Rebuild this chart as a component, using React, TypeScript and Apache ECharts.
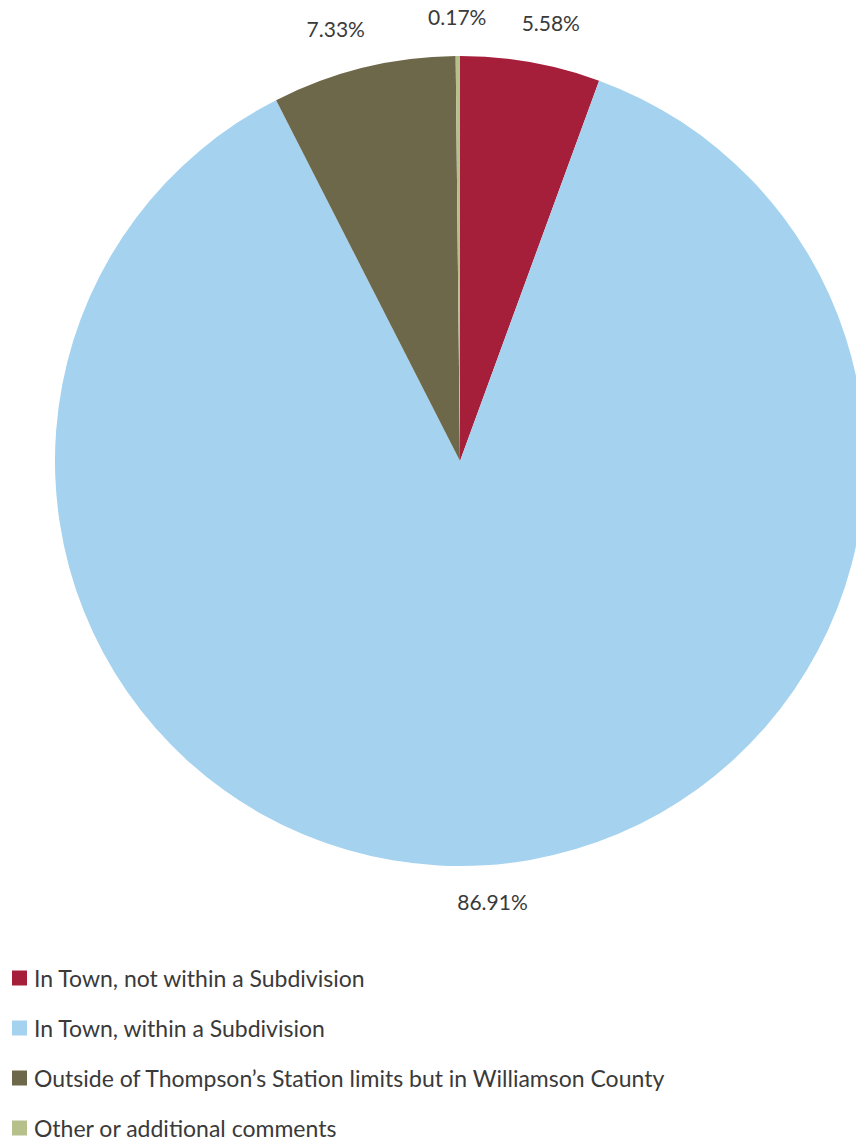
import React, { useEffect, useRef } from "react";
import * as echarts from "echarts";

const categories = [
  "In Town, not within a Subdivision",
  "In Town, within a Subdivision",
  "Outside of Thompson\u2019s Station limits but in Williamson County",
  "Other or additional comments",
];
const values = [5.58, 86.91, 7.33, 0.17];
const colors = ["#A51E3A", "#A4D2EF", "#6E684A", "#B5C08A"];

const CX = 460;
const CY = 461;
const R = 405;
const LABEL_GAP = 28;

export default function App() {
  const ref = useRef<HTMLDivElement>(null);
  useEffect(() => {
    if (!ref.current) return;
    const chart = echarts.init(ref.current, null, { renderer: "svg" });
    const total = values.reduce((a, b) => a + b, 0);
    const mids: number[] = [];
    let acc = 0;
    values.forEach((v) => {
      const start = 90 - (acc / total) * 360;
      const end = 90 - ((acc + v) / total) * 360;
      mids.push((start + end) / 2);
      acc += v;
    });
    chart.setOption({
      animation: false,
      backgroundColor: "#ffffff",
      legend: {
        orient: "vertical",
        left: 12,
        top: 966,
        padding: 0,
        itemWidth: 15,
        itemHeight: 15,
        itemGap: 26,
        icon: "rect",
        data: categories,
        textStyle: {
          fontFamily: "Lato",
          fontSize: 23,
          lineHeight: 24,
          color: "#3a3a3a",
          padding: [0, 0, 0, 2],
        },
      },
      series: [
        {
          type: "pie",
          center: [CX, CY],
          radius: R,
          startAngle: 90,
          clockwise: true,
          avoidLabelOverlap: false,
          itemStyle: { borderWidth: 0 },
          emphasis: { disabled: true },
          label: {
            show: true,
            position: "outside",
            formatter: (p: any) => p.value.toFixed(2) + "%",
            fontFamily: "Lato",
            fontSize: 21,
            color: "#3a3a3a",
          },
          labelLine: { show: false },
          labelLayout: (params: any) => {
            const th = (mids[params.dataIndex] * Math.PI) / 180;
            const c = Math.cos(th);
            const s = Math.sin(th);
            const D = R + LABEL_GAP;
            const w = params.labelRect.width;
            const h = 20;
            const ax = CX + D * c;
            const ay = CY - D * s;
            const sx = (w / 2) * Math.max(-1, Math.min(1, 3 * c));
            const sy = -(h / 2) * Math.sign(s) - 2;
            return {
              x: ax + sx,
              y: ay + sy,
              align: "center",
              verticalAlign: "middle",
            };
          },
          data: categories.map((name, i) => ({
            name,
            value: values[i],
            itemStyle: { color: colors[i] },
          })),
        },
      ],
    });
    return () => chart.dispose();
  }, []);
  return (
    <div
      ref={ref}
      style={{ position: "fixed", left: 0, top: 0, width: 856, height: 1240 }}
    />
  );
}
